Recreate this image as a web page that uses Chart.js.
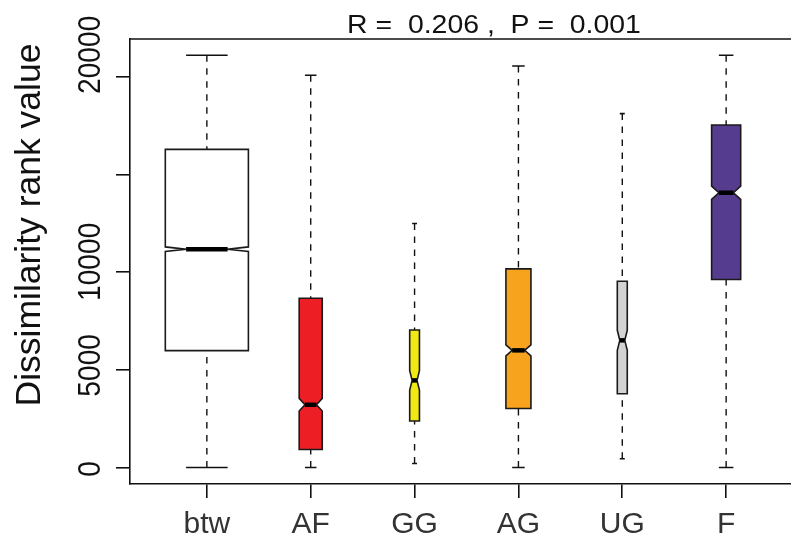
<!DOCTYPE html>
<html>
<head>
<meta charset="utf-8">
<script src="https://cdn.jsdelivr.net/npm/chart.js@4.4.1/dist/chart.umd.min.js"></script>
<style>
  html, body { margin: 0; padding: 0; background: #fff; overflow: hidden; }
  #wrap { position: relative; width: 812px; height: 538px; }
</style>
</head>
<body>
<div id="wrap"><canvas id="chart"></canvas></div>
<script>
// groups and box statistics
const categories = ['btw', 'AF', 'GG', 'AG', 'UG', 'F'];
const whiskerLow = [0, 0, 205, 0, 446, 0];
const q1 = [5985, 923, 2379, 3026, 3779, 9626];
const notchLow = [11061, 2890, 3967, 5718, 6000, 13731];
const median = [11179, 3215, 4462, 6000, 6513, 14072];
const notchHigh = [11297, 3540, 4957, 6282, 7026, 14413];
const q3 = [16292, 8667, 7046, 10174, 9538, 17538];
const whiskerHigh = [21113, 20087, 12497, 20564, 18123, 21113];
const yTicks = [0, 5000, 10000, 15000, 20000];
const yTickLabels = ['0', '5000', '10000', '', '20000'];
const titleText = 'R =  0.206 ,  P =  0.001';
const yTitle = 'Dissimilarity rank value';

// varwidth boxes (fraction of group spacing) and fills
const boxWidth = [0.8, 0.222, 0.094, 0.241, 0.096, 0.28];
const boxColors = ['#ffffff', '#ee1f24', '#f1e913', '#f7a31e', '#d3d3d3', '#563c8e'];

const FONT = '"Liberation Sans", Arial, Helvetica, sans-serif';

const boxPlugin = {
  id: 'notchedBoxes',
  afterDatasetsDraw(chart) {
    const ctx = chart.ctx;
    const xs = chart.scales.x, ys = chart.scales.y;
    ctx.save();
    categories.forEach((cat, i) => {
      const x = xs.getPixelForValue(i + 1);
      const hw = xs.getPixelForValue(i + 1 + boxWidth[i] / 2) - x;
      const cap = hw / 2;

      // dashed whiskers
      ctx.strokeStyle = '#111';
      ctx.lineWidth = 1.4;
      ctx.setLineDash([6.5, 6.5]);
      ctx.beginPath();
      ctx.moveTo(x, ys.getPixelForValue(whiskerHigh[i]));
      ctx.lineTo(x, ys.getPixelForValue(q3[i]));
      ctx.moveTo(x, ys.getPixelForValue(whiskerLow[i]));
      ctx.lineTo(x, ys.getPixelForValue(q1[i]));
      ctx.stroke();
      ctx.setLineDash([]);

      // staples
      ctx.lineWidth = 1.6;
      ctx.beginPath();
      [whiskerHigh[i], whiskerLow[i]].forEach(v => {
        const y = ys.getPixelForValue(v);
        ctx.moveTo(x - cap, y);
        ctx.lineTo(x + cap, y);
      });
      ctx.stroke();

      // notched box
      const yq1 = ys.getPixelForValue(q1[i]);
      const yq3 = ys.getPixelForValue(q3[i]);
      const ynl = ys.getPixelForValue(notchLow[i]);
      const ynh = ys.getPixelForValue(notchHigh[i]);
      const ym = ys.getPixelForValue(median[i]);
      ctx.beginPath();
      ctx.moveTo(x - hw, yq1);
      ctx.lineTo(x + hw, yq1);
      ctx.lineTo(x + hw, ynl);
      ctx.lineTo(x + hw / 2, ym);
      ctx.lineTo(x + hw, ynh);
      ctx.lineTo(x + hw, yq3);
      ctx.lineTo(x - hw, yq3);
      ctx.lineTo(x - hw, ynh);
      ctx.lineTo(x - hw / 2, ym);
      ctx.lineTo(x - hw, ynl);
      ctx.closePath();
      ctx.fillStyle = boxColors[i];
      ctx.fill();
      ctx.lineWidth = 1.6;
      ctx.strokeStyle = '#1a1a1a';
      ctx.stroke();

      // median
      ctx.lineWidth = 4.5;
      ctx.strokeStyle = '#000';
      ctx.beginPath();
      ctx.moveTo(x - hw / 2, ym);
      ctx.lineTo(x + hw / 2, ym);
      ctx.stroke();
    });
    ctx.restore();
  }
};

const textPlugin = {
  id: 'rText',
  afterDraw(chart) {
    const ctx = chart.ctx;
    const area = chart.chartArea;
    const ys = chart.scales.y;
    ctx.save();

    // top of the frame
    ctx.strokeStyle = '#111';
    ctx.lineWidth = 1.6;
    ctx.beginPath();
    ctx.moveTo(area.left, area.top);
    ctx.lineTo(area.right, area.top);
    ctx.stroke();

    // title
    ctx.fillStyle = '#111';
    ctx.font = '25.6px ' + FONT;
    ctx.textAlign = 'center';
    ctx.textBaseline = 'alphabetic';
    ctx.save();
    ctx.translate(494, 33.3);
    ctx.scale(1.11, 1);
    ctx.fillText(titleText, 0, 0);
    ctx.restore();

    // y tick labels, parallel to the axis
    ctx.font = '32px ' + FONT;
    yTicks.forEach((v, i) => {
      if (!yTickLabels[i]) return;
      // labels in the original sit a little more spread out than their ticks
      const y = ys.getPixelForValue(v * 1.06) + 1.3;
      ctx.save();
      ctx.translate(100, y);
      ctx.rotate(-Math.PI / 2);
      ctx.scale(0.88, 1);
      ctx.fillText(yTickLabels[i], 0, 0);
      ctx.restore();
    });

    // y axis title
    ctx.font = '35.5px ' + FONT;
    ctx.save();
    ctx.translate(40, 225);
    ctx.rotate(-Math.PI / 2);
    ctx.fillText(yTitle, 0, 0);
    ctx.restore();

    ctx.restore();
  }
};

new Chart(document.getElementById('chart'), {
  type: 'scatter',
  data: {
    datasets: [{
      data: categories.map((c, i) => ({ x: i + 1, y: median[i] })),
      pointRadius: 0,
      showLine: false
    }]
  },
  options: {
    responsive: true,
    maintainAspectRatio: false,
    animation: false,
    events: [],
    layout: { padding: { top: 39, right: 9, left: 0, bottom: 0 } },
    plugins: {
      legend: { display: false },
      tooltip: { enabled: false }
    },
    scales: {
      x: {
        type: 'linear',
        min: 0.26,
        max: 6.74,
        afterBuildTicks: scale => {
          scale.ticks = categories.map((c, i) => ({ value: i + 1 }));
        },
        afterFit: scale => { scale.height = 54; },
        grid: { drawOnChartArea: false, drawTicks: true, tickLength: 14, color: '#111', lineWidth: 1.6 },
        border: { display: true, color: '#111', width: 1.6 },
        ticks: {
          autoSkip: false,
          maxRotation: 0,
          padding: 9,
          color: '#333',
          font: { family: FONT, size: 30 },
          callback: (v, idx) => categories[idx]
        }
      },
      y: {
        type: 'linear',
        min: -844,
        max: 21944,
        afterBuildTicks: scale => {
          scale.ticks = yTicks.map(v => ({ value: v }));
        },
        afterFit: scale => { scale.width = 130; },
        grid: { drawOnChartArea: false, drawTicks: true, tickLength: 14, color: '#111', lineWidth: 1.6 },
        border: { display: true, color: '#111', width: 1.6 },
        ticks: { display: false }
      }
    }
  },
  plugins: [boxPlugin, textPlugin]
});
</script>
</body>
</html>
